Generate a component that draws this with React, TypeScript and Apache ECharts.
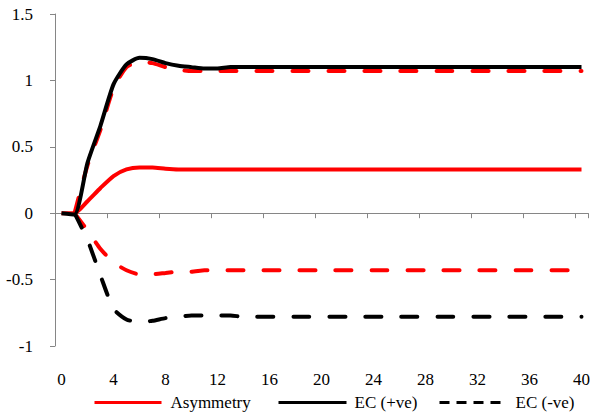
import React, { useEffect, useRef } from "react";
import * as echarts from "echarts";

const categories = ["0","1","2","3","4","5","6","7","8","9","10","11","12","13","14","15","16","17","18","19","20","21","22","23","24","25","26","27","28","29","30","31","32","33","34","35","36","37","38","39","40"];

const asymmetry = [0, 0, 0.09, 0.19, 0.28, 0.33, 0.345, 0.345, 0.335, 0.33, 0.33, 0.33, 0.33, 0.33, 0.33, 0.33, 0.33, 0.33, 0.33, 0.33, 0.33, 0.33, 0.33, 0.33, 0.33, 0.33, 0.33, 0.33, 0.33, 0.33, 0.33, 0.33, 0.33, 0.33, 0.33, 0.33, 0.33, 0.33, 0.33, 0.33, 0.33];

const ecPositive = [0, -0.01, 0.38, 0.66, 0.97, 1.12, 1.17, 1.16, 1.13, 1.11, 1.10, 1.09, 1.09, 1.10, 1.10, 1.10, 1.10, 1.10, 1.10, 1.10, 1.10, 1.10, 1.10, 1.10, 1.10, 1.10, 1.10, 1.10, 1.10, 1.10, 1.10, 1.10, 1.10, 1.10, 1.10, 1.10, 1.10, 1.10, 1.10, 1.10, 1.10];

const ecNegative = [null, 0, -0.2, -0.47, -0.72, -0.80, -0.82, -0.81, -0.79, -0.78, -0.77, -0.77, -0.77, -0.77, -0.78, -0.78, -0.78, -0.78, -0.78, -0.78, -0.78, -0.78, -0.78, -0.78, -0.78, -0.78, -0.78, -0.78, -0.78, -0.78, -0.78, -0.78, -0.78, -0.78, -0.78, -0.78, -0.78, -0.78, -0.78, -0.78, -0.78];

const bandUpper = [null, 0, 0.36, 0.63, 0.94, 1.10, 1.14, 1.13, 1.10, 1.08, 1.07, 1.07, 1.07, 1.07, 1.07, 1.07, 1.07, 1.07, 1.07, 1.07, 1.07, 1.07, 1.07, 1.07, 1.07, 1.07, 1.07, 1.07, 1.07, 1.07, 1.07, 1.07, 1.07, 1.07, 1.07, 1.07, 1.07, 1.07, 1.07, 1.07, 1.07];

const bandLower = [null, 0, -0.13, -0.27, -0.37, -0.43, -0.46, -0.46, -0.45, -0.44, -0.44, -0.43, -0.43, -0.43, -0.43, -0.43, -0.43, -0.43, -0.43, -0.43, -0.43, -0.43, -0.43, -0.43, -0.43, -0.43, -0.43, -0.43, -0.43, -0.43, -0.43, -0.43, -0.43, -0.43, -0.43, -0.43, -0.43, -0.43, -0.43, -0.43, -0.43];

const FONT = "Times New Roman, Liberation Serif, serif";
const AXIS_COLOR = "#868686";

export default function App() {
  const ref = useRef<HTMLDivElement>(null);
  useEffect(() => {
    if (!ref.current) return;
    const chart = echarts.init(ref.current, null, { renderer: "svg" });
    const dash = { type: [16, 20] as any, cap: "round" as any, width: 4 };
    const legendText = { fontFamily: FONT, fontSize: 17, color: "#000" };
    chart.setOption({
      animation: false,
      textStyle: { fontFamily: FONT },
      grid: { left: 55, right: 7, top: 14, bottom: 69 },
      legend: [
        {
          left: 88, top: 389, itemWidth: 67, itemHeight: 12,
          data: [{ name: "Asymmetry", itemStyle: { opacity: 0 }, lineStyle: { width: 3, type: "solid" } }],
          textStyle: { ...legendText, padding: [0, 0, 0, 4] },
        },
        {
          left: 272, top: 389, itemWidth: 68, itemHeight: 12,
          data: [{ name: "EC (+ve)", itemStyle: { opacity: 0 }, lineStyle: { width: 3, type: "solid" } }],
          textStyle: { ...legendText, padding: [0, 0, 0, 3] },
        },
        {
          left: 433, top: 389, itemWidth: 62, itemHeight: 12,
          data: [{ name: "EC (-ve)", itemStyle: { opacity: 0 }, lineStyle: { width: 3, type: [10, 7], cap: "butt" } }],
          textStyle: { ...legendText, padding: [0, 0, 0, 9] },
        },
      ],
      xAxis: [
        {
          type: "category",
          data: categories,
          boundaryGap: true,
          axisLine: { onZero: true, lineStyle: { color: AXIS_COLOR, width: 1 } },
          axisTick: { show: true, interval: 3, length: 5, lineStyle: { color: AXIS_COLOR } },
          axisLabel: { show: false },
          splitLine: { show: false },
        },
        {
          type: "category",
          data: categories,
          position: "bottom",
          boundaryGap: true,
          axisLine: { show: false, onZero: false },
          axisTick: { show: false },
          axisLabel: { interval: 3, margin: 25, fontFamily: FONT, fontSize: 17, color: "#000" },
          splitLine: { show: false },
        },
      ],
      yAxis: {
        type: "value",
        min: -1,
        max: 1.5,
        interval: 0.5,
        axisLine: { show: true, lineStyle: { color: AXIS_COLOR, width: 1 } },
        axisTick: { show: true, length: 5, lineStyle: { color: AXIS_COLOR } },
        axisLabel: { margin: 22, fontFamily: FONT, fontSize: 17, color: "#000" },
        splitLine: { show: false },
      },
      series: [
        {
          name: "Band upper", type: "line", data: bandUpper, smooth: 0.2, symbol: "none",
          lineStyle: { color: "#ff0000", ...dash }, itemStyle: { color: "#ff0000" }, z: 2,
        },
        {
          name: "Band lower", type: "line", data: bandLower, smooth: 0.2, symbol: "none",
          lineStyle: { color: "#ff0000", ...dash }, itemStyle: { color: "#ff0000" }, z: 2,
        },
        {
          name: "EC (-ve)", type: "line", data: ecNegative, smooth: 0.2, symbol: "none",
          lineStyle: { color: "#000000", ...dash }, itemStyle: { color: "#000000" }, z: 3,
        },
        {
          name: "Asymmetry", type: "line", data: asymmetry, smooth: 0.2, symbol: "none",
          lineStyle: { color: "#ff0000", width: 4 }, itemStyle: { color: "#ff0000" }, z: 3,
        },
        {
          name: "EC (+ve)", type: "line", data: ecPositive, smooth: 0.2, symbol: "none",
          lineStyle: { color: "#000000", width: 4 }, itemStyle: { color: "#000000" }, z: 4,
        },
      ],
    });
    return () => chart.dispose();
  }, []);
  return <div ref={ref} style={{ width: 595, height: 415, position: "absolute", left: 0, top: 0 }} />;
}
